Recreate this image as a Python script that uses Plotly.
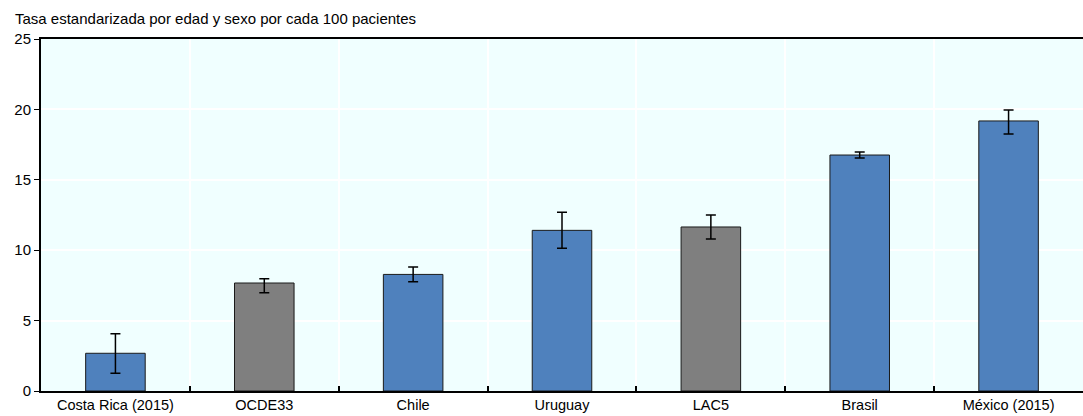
import plotly.graph_objects as go

categories = ["Costa Rica (2015)", "OCDE33", "Chile", "Uruguay", "LAC5", "Brasil", "México (2015)"]
values = [2.68, 7.67, 8.28, 11.41, 11.65, 16.76, 19.18]
err_upper = [4.06, 7.97, 8.80, 12.69, 12.50, 16.97, 19.96]
err_lower = [1.26, 6.97, 7.76, 10.13, 10.80, 16.55, 18.25]
bar_colors = ["#4F81BD", "#7F7F7F", "#4F81BD", "#4F81BD", "#7F7F7F", "#4F81BD", "#4F81BD"]
y_ticks = [0, 5, 10, 15, 20, 25]
title_text = "Tasa estandarizada por edad y sexo por cada 100 pacientes"

plus = [u - v for u, v in zip(err_upper, values)]
minus = [v - l for v, l in zip(values, err_lower)]

FONT = "Liberation Sans, Arial, sans-serif"

fig = go.Figure()
fig.add_trace(go.Bar(
    x=categories, y=values,
    marker=dict(color=bar_colors, line=dict(color="#1a1a1a", width=1)),
    width=0.4,
    error_y=dict(type="data", symmetric=False, array=plus, arrayminus=minus,
                 color="black", thickness=1.5, width=5),
))

fig.update_layout(
    width=1083, height=416,
    margin=dict(l=41, r=0, t=39, b=25, autoexpand=False),
    paper_bgcolor="white",
    plot_bgcolor="#F0FFFF",
    showlegend=False,
    font=dict(family=FONT, size=14, color="black"),
    annotations=[dict(text=title_text, xref="paper", yref="paper", x=-0.027, y=1.0,
                      yshift=21, xanchor="left", yanchor="middle", showarrow=False,
                      font=dict(family=FONT, size=15, color="black"))],
)
fig.update_xaxes(
    type="category", tickson="boundaries", ticks="inside", ticklen=5, tickwidth=1.5,
    tickcolor="black", showgrid=True, gridcolor="white", gridwidth=1.5,
    showline=True, linecolor="black", linewidth=2, mirror=True, automargin=False,
    tickfont=dict(family=FONT, size=14.5), range=[-0.5, 6.5],
)
fig.update_yaxes(
    range=[0, 25], tickvals=y_ticks, ticks="outside", ticklen=5, tickwidth=1,
    tickcolor="black", showgrid=True, gridcolor="white", gridwidth=1.5,
    showline=True, linecolor="black", linewidth=2, zeroline=False, automargin=False,
    tickfont=dict(family=FONT, size=15),
)

fig.write_html("out.html", config={"displayModeBar": False},
               post_script="document.body.style.margin='0';document.body.style.overflow='hidden';")
